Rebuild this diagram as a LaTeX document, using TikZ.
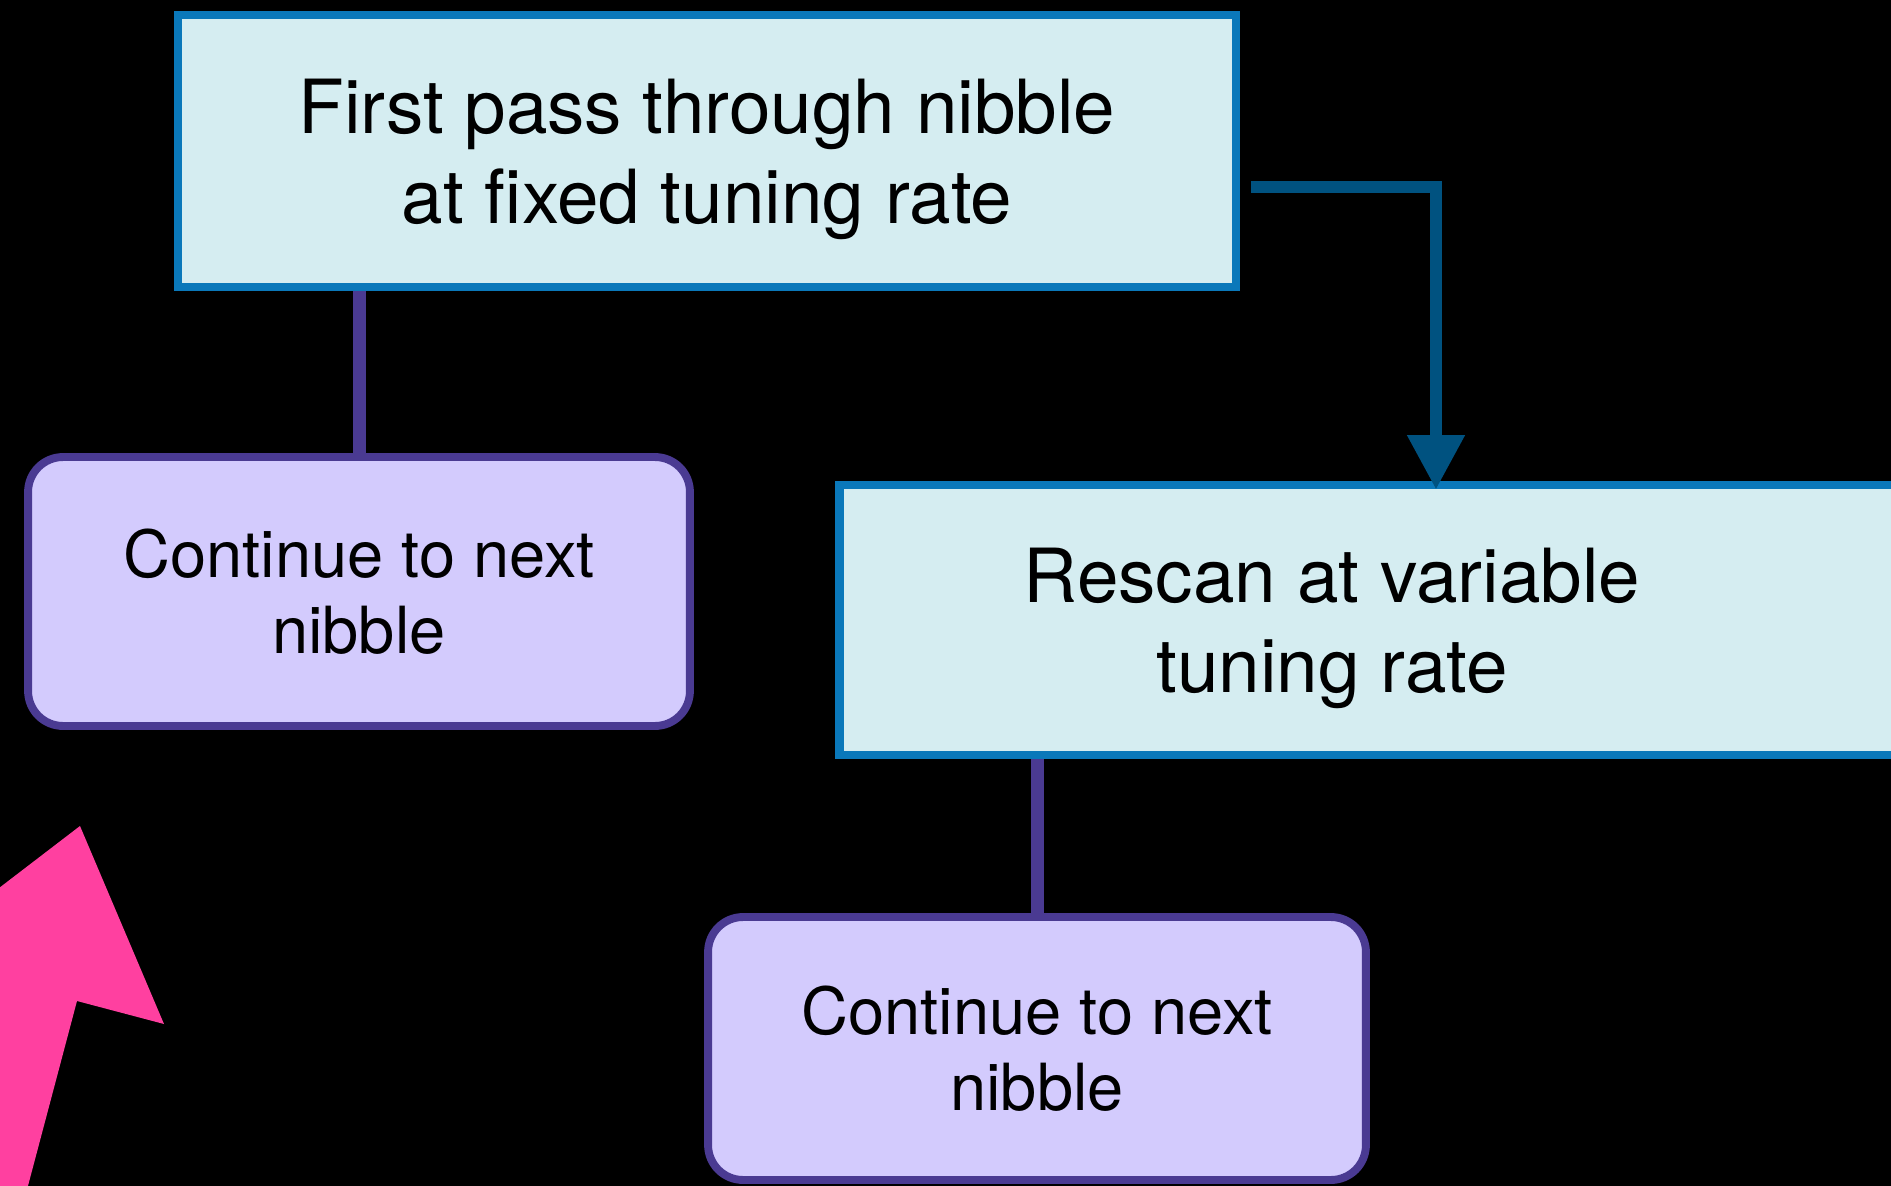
\documentclass[tikz,border=0pt]{standalone}
\usepackage{fontspec}
\setmainfont{TeX Gyre Heros}
\usepackage{xcolor}
\usetikzlibrary{calc}
\usetikzlibrary{arrows.meta}
\definecolor{boxblue}{RGB}{10,120,186}
\definecolor{boxcyan}{RGB}{213,237,241}
\definecolor{arrowblue}{RGB}{0,82,128}
\definecolor{boxlilac}{RGB}{211,203,253}
\definecolor{boxpurple}{RGB}{74,58,146}
\definecolor{hotpink}{RGB}{255,64,160}
\pgfdeclarelayer{back}
\pgfdeclarelayer{bg}
\pgfsetlayers{back,bg,main}
\tikzset{
	stepbox/.style={rectangle, draw=boxblue, fill=boxcyan, line width=5pt},
	steptext/.style={align=center, text depth=0pt, font=\fontsize{42.5}{51}\selectfont},
	nextbox/.style={rectangle, draw=boxpurple, fill=boxlilac, line width=4.5pt,
			rounded corners=0.7cm, align=center, font=\fontsize{37}{43}\selectfont},
	link/.style={draw=boxpurple, line width=7.4pt},
	flow/.style={draw=arrowblue, line width=7pt, -{Triangle[width=31pt,length=31pt]}}
}

\begin{document}
\begin{tikzpicture}[x=0.02cm, y=-0.02cm]
	\begin{pgfonlayer}{back}
		\fill[black] (0,0) rectangle (1891,1186);
	\end{pgfonlayer}
	\clip (0,0) rectangle (1891,1186);

	\node[stepbox, steptext, minimum width=21.16cm, minimum height=5.44cm] (first) at (707,151)
		{First pass through nibble\\at fixed tuning rate};
	\node[stepbox, minimum width=21.22cm, minimum height=5.4cm] (rescanbox) at (1369.5,620) {};
	\node[steptext] (rescan) at (1332,620) {Rescan at variable\\tuning rate};

	\node[nextbox, minimum width=13.24cm, minimum height=5.38cm] (cont1) at (359,591.5)
		{Continue to next\\nibble};
	\node[nextbox, minimum width=13.16cm, minimum height=5.26cm] (cont2) at (1037,1048.5)
		{Continue to next\\nibble};

	\begin{pgfonlayer}{bg}
		\draw[link] (cont1.north |- first.south) -- (cont1.north);
		\draw[link] (cont2.north |- rescanbox.south) -- (cont2.north);
	\end{pgfonlayer}

	\coordinate (bend) at (1436,187);
	\coordinate (drop) at ($(bend |- rescanbox.north)+(0,9)$);
	\draw[flow] ($(first.east)+(11,36)$) -- (bend) -- (drop);

	% big pink arrow in the corner
	\fill[hotpink] (80,826) -- (164,1024) -- (77,1001) -- (11,1250) -- (-75,1250)
		-- (-4,980) -- (-91,957) -- cycle;
\end{tikzpicture}
\end{document}
